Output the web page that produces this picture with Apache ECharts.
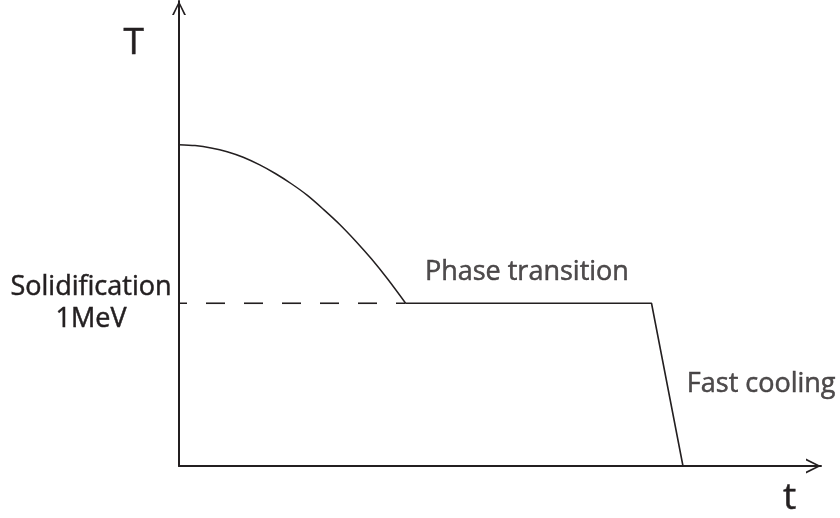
<!DOCTYPE html>
<html>
<head>
<meta charset="utf-8">
<script src="https://cdn.jsdelivr.net/npm/echarts@6/dist/echarts.min.js"></script>
<style>
  html, body { margin: 0; padding: 0; background: #ffffff; }
  #chart { width: 840px; height: 518px; }
</style>
</head>
<body>
<div id="chart"></div>
<script>
// ---- data ----
const curveTime = [0, 2.5, 5, 7.5, 10, 12.5, 15, 17.5, 20, 22.5, 25, 27.5, 30, 32.5, 35.3];
const curveTemp = [69.1, 68.9, 68.4, 67.6, 66.4, 64.8, 62.9, 60.7, 58.2, 55.2, 52.0, 48.4, 44.5, 40.2, 35.0];
const plateauTime = [35.3, 73.6, 78.5];
const plateauTemp = [35.0, 35.0, 0];
const dashTime = [0, 35.3];
const dashTemp = [35.0, 35.0];
const solidTemp = 35;
const solidLabel = 'Solidification\n1MeV';
const annotationText = ['Phase transition', 'Fast cooling'];
const annotationTime = [38.3, 79.1];
const annotationTemp = [41.7, 17.6];
const xName = 't';
const yName = 'T';

const ink = '#231f20';
const font = 'Open Sans';
const textThick = { textBorderColor: ink, textBorderWidth: 0.5 };
const arrow = 'path://M0,100 L50,0 L100,100 L86,100 L50,24 L14,100 Z';

const zip = (a, b) => a.map((v, i) => [v, b[i]]);

const chart = echarts.init(document.getElementById('chart'), null, { renderer: 'canvas' });
chart.setOption({
  animation: false,
  backgroundColor: '#ffffff',
  grid: { left: 179, right: 19, top: 1, bottom: 52, containLabel: false, outerBoundsMode: 'none' },
  xAxis: {
    type: 'value', min: 0, max: 100,
    name: '\n' + xName, nameLocation: 'end', nameGap: -38,
    nameTextStyle: Object.assign({ fontFamily: font, fontSize: 37, lineHeight: 64, color: ink, align: 'left', verticalAlign: 'middle' }, textThick),
    axisLine: { show: true, onZero: false, symbol: ['none', arrow], symbolSize: [17, 15], symbolOffset: [0, -7.5], lineStyle: { color: ink, width: 2 } },
    axisTick: { show: false }, axisLabel: { show: false }, splitLine: { show: false }
  },
  yAxis: {
    type: 'value', min: 0, max: 100, interval: 35,
    name: yName, nameLocation: 'end', nameGap: -42,
    nameTextStyle: Object.assign({ fontFamily: font, fontSize: 37, color: ink, align: 'right', verticalAlign: 'middle', padding: [0, 35, 0, 0] }, textThick),
    axisLine: { show: true, onZero: false, symbol: ['none', arrow], symbolSize: [17, 14], symbolOffset: [0, -7], lineStyle: { color: ink, width: 2 } },
    axisTick: { show: false }, splitLine: { show: false },
    axisLabel: Object.assign({
      show: true, margin: 88, align: 'center', verticalAlign: 'middle',
      fontFamily: font, fontSize: 27, color: ink, lineHeight: 32, padding: [32, 0, 0, 0],
      showMinLabel: false, showMaxLabel: false,
      formatter: (v) => (v === solidTemp ? solidLabel : '')
    }, textThick)
  },
  series: [
    {
      type: 'line', data: zip(dashTime, dashTemp), showSymbol: false, silent: true,
      lineStyle: { color: ink, width: 1.6, type: [19, 19], dashOffset: 11 }, z: 1
    },
    {
      type: 'line', data: zip(curveTime, curveTemp), smooth: 0.3, showSymbol: false, silent: true,
      lineStyle: { color: ink, width: 1.5 }, z: 2
    },
    {
      type: 'line', data: zip(plateauTime, plateauTemp), showSymbol: false, silent: true,
      lineStyle: { color: ink, width: 1.6 }, z: 2
    },
    {
      type: 'scatter', symbolSize: 0, silent: true,
      data: annotationText.map((t, i) => ({ value: [annotationTime[i], annotationTemp[i]], name: t })),
      label: Object.assign({ show: true, position: 'right', distance: 0, align: 'left', verticalAlign: 'middle',
               formatter: (p) => p.name, fontFamily: font, fontSize: 27, color: ink }, textThick)
    }
  ]
});
</script>
</body>
</html>
